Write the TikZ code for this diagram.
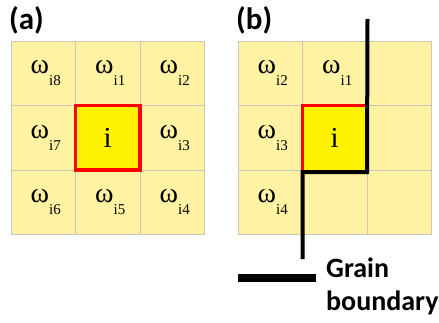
\documentclass[tikz,border=0pt]{standalone}
\usepackage{fontspec}
\setmainfont{Liberation Serif}
\newfontfamily\tagfont{Carlito}
\usetikzlibrary{positioning}
\definecolor{cellyellow}{HTML}{FFF3A3}
\definecolor{gridgray}{HTML}{C8C6BE}
\newcommand{\om}[1]{\hspace{5pt}ω\raisebox{-0.95ex}{\fontsize{15}{15}\selectfont #1}}

\begin{document}
\begin{tikzpicture}[x=1pt,y=-1pt,
  cell/.style={draw=gridgray,line width=1pt,fill=cellyellow,minimum size=64.5pt,inner sep=0pt,outer sep=0pt,font=\fontsize{28}{28}\selectfont},
  centre/.style={cell,fill=yellow,font=\fontsize{29}{29}\selectfont},
  tag/.style={font=\tagfont\bfseries\fontsize{28}{28}\selectfont,anchor=base west,inner sep=0pt},
  gb/.style={line width=4pt}]
\useasboundingbox (0,0) rectangle (439,322);
% (a) full neighbourhood
\begin{scope}[shift={(11,41)}]
\foreach \c/\r/\lab in {0/0/{\om{i8}},1/0/{\om{i1}},2/0/{\om{i2}},0/1/{\om{i7}},2/1/{\om{i3}},0/2/{\om{i6}},1/2/{\om{i5}},2/2/{\om{i4}}}{\node[cell] (a\c\r) at (32.25+64.5*\c,32.25+64.5*\r) {\lab};}
\node[centre] (a11) at (96.75,96.75) {i};
\end{scope}
\draw[red,line width=3.5pt] (a11.south west) rectangle (a11.north east);
\node[tag,font=\tagfont\bfseries\fontsize{31}{31}\selectfont] (tagA) at (9,29) {(a)};
% (b) cell on the grain boundary
\begin{scope}[shift={(238,41)}]
\foreach \c/\r/\lab in {0/0/{\om{i2}},1/0/{\om{i1}},2/0/{},0/1/{\om{i3}},2/1/{},0/2/{\om{i4}},1/2/{},2/2/{}}{\node[cell] (b\c\r) at (32.25+64.5*\c,32.25+64.5*\r) {\lab};}
\node[centre] (b11) at (96.75,96.75) {i};
\end{scope}
\draw[red,line width=3.5pt] (b11.south west) |- (b11.north east);
\node[tag,font=\tagfont\bfseries\fontsize{31}{31}\selectfont] (tagB) at (236,29) {(b)};
\coordinate (gbtop) at (367.5,19);\coordinate (gbbot) at (302.5,259);
\draw[gb] (gbtop) -- ([yshift=-2pt]b11.south east) -- ([yshift=-2pt]b11.south west) -- (gbbot);
% key
\coordinate (keyl) at (238,278);\coordinate (keyr) at (316,278);
\draw[line width=8pt] (keyl) -- (keyr);
\node[tag] (grain) at (326,277) {Grain};
\node[tag] (bound) at (326,310) {boundary};
\end{tikzpicture}
\end{document}
